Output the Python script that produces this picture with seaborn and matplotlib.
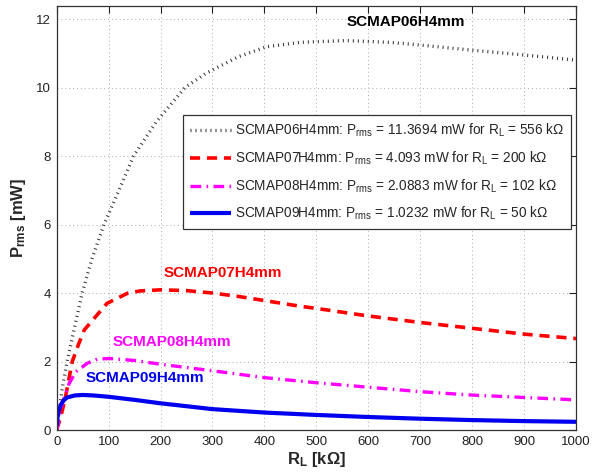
import matplotlib
matplotlib.use("Agg")
import matplotlib.pyplot as plt
import seaborn as sns
import numpy as np

# ---- data ----
r_06 = [0, 5, 10, 20, 33, 49, 68, 91, 120, 148, 192, 247, 288, 350, 404, 470, 556, 640, 700, 800, 900, 1000]
p_06 = [0, 0.6, 1.15, 2.0, 2.9, 4.0, 5.0, 6.0, 7.0, 8.0, 9.0, 10.0, 10.42, 10.9, 11.19, 11.32, 11.37, 11.32, 11.24, 11.09, 10.95, 10.8]

r_07 = [0, 4, 8, 17, 30, 42, 53, 75, 97, 136, 160, 200, 250, 300, 350, 400, 462, 500, 600, 700, 800, 900, 1000]
p_07 = [0, 0.2, 0.39, 0.97, 2.0, 2.5, 2.92, 3.31, 3.70, 3.99, 4.06, 4.093, 4.07, 4.0, 3.9, 3.78, 3.63, 3.55, 3.33, 3.14, 2.97, 2.80, 2.67]

r_08 = [0, 4, 11, 24, 37, 59, 78, 102, 150, 200, 300, 400, 500, 600, 700, 800, 900, 1000]
p_08 = [0, 0.32, 0.78, 1.36, 1.70, 1.95, 2.07, 2.0883, 2.03, 1.92, 1.73, 1.53, 1.38, 1.25, 1.12, 1.02, 0.95, 0.88]

r_09 = [0.5, 1.2, 4, 7.7, 13, 20, 35, 50, 70, 100, 150, 200, 300, 400, 500, 600, 700, 800, 900, 1000]
p_09 = [0.12, 0.34, 0.56, 0.73, 0.86, 0.95, 1.01, 1.0232, 1.01, 0.97, 0.88, 0.78, 0.61, 0.51, 0.44, 0.38, 0.33, 0.29, 0.26, 0.24]

names = ["SCMAP06H4mm", "SCMAP07H4mm", "SCMAP08H4mm", "SCMAP09H4mm"]
p_max = ["11.3694", "4.093", "2.0883", "1.0232"]
r_opt = ["556", "200", "102", "50"]

x_ticks = [0, 100, 200, 300, 400, 500, 600, 700, 800, 900, 1000]
y_ticks = [0, 2, 4, 6, 8, 10, 12]

# ---- style ----
sns.set_theme(style="white")
plt.rcParams["font.family"] = ["Liberation Sans", "DejaVu Sans"]
plt.rcParams["mathtext.fontset"] = "custom"
plt.rcParams["mathtext.rm"] = "Liberation Sans"
plt.rcParams["mathtext.it"] = "Liberation Sans:italic"
plt.rcParams["mathtext.bf"] = "Liberation Sans:bold"

fig = plt.figure(figsize=(5.93, 4.76), dpi=100)
ax = fig.add_axes([0.0956, 0.0966, 0.8757, 0.8908])

series = [(r_06, p_06), (r_07, p_07), (r_08, p_08), (r_09, p_09)]
colors = ["#333333", "#ff0000", "#ff00ff", "#0000ee"]
styles = [dict(lw=2.4, dashes=(0.3, 1.2), dash_capstyle="butt"),
          dict(lw=2.6, dashes=(2.8, 1.9), dash_capstyle="butt"),
          dict(lw=2.4, dashes=(3.2, 1.6, 0.5, 1.6), dash_capstyle="butt"),
          dict(lw=3.0)]

for (r, p), c, st, n, pm, ro in zip(series, colors, styles, names, p_max, r_opt):
    label = (n + ": P$_{\\mathrm{rms}}$ = " + pm + " mW for R$_{\\mathrm{L}}$ = " + ro + " k\u03a9")
    sns.lineplot(x=r, y=p, ax=ax, color=c, label=label, sort=False, estimator=None)
    l = ax.get_lines()[-1]
    l.set_linewidth(st["lw"])
    if "dashes" in st:
        l.set_dashes(st["dashes"])
        l.set_dash_capstyle(st["dash_capstyle"])
    l.set_solid_capstyle("butt")

ax.set_xlim(0, 1000)
ax.set_ylim(0, 12.38)
ax.set_xticks(x_ticks)
ax.set_yticks(y_ticks)
ax.tick_params(direction="in", length=5, width=0.8, top=True, right=True,
               labelsize=9.5, colors="#222222", pad=4)
for s in ax.spines.values():
    s.set_color("#333333")
    s.set_linewidth(0.9)
ax.grid(True, linestyle=(0, (1, 3)), color="#aaaaaa", linewidth=0.7)

ax.set_xlabel("R$_{\\mathbf{L}}$ [k\u03a9]", fontsize=12, fontweight="bold", labelpad=2)
ax.set_ylabel("P$_{\\mathbf{rms}}$ [mW]", fontsize=12, fontweight="bold", labelpad=6)

ann = [(673, 11.9, names[0], "black"), (320, 4.57, names[1], colors[1]),
       (222, 2.58, names[2], colors[2]), (169, 1.51, names[3], colors[3])]
for x, y, t, c in ann:
    ax.text(x, y, t, color=c, fontsize=11, fontweight="bold", ha="center", va="center")

leg = ax.legend(loc="upper right", bbox_to_anchor=(0.99, 0.743), fontsize=9.8,
                handlelength=3.0, labelspacing=0.76, borderpad=0.5,
                handletextpad=0.3, fancybox=False, framealpha=1, borderaxespad=0)
leg.get_frame().set_edgecolor("#333333")
leg.get_frame().set_linewidth(0.9)

fig.savefig("out.png", dpi=100)
